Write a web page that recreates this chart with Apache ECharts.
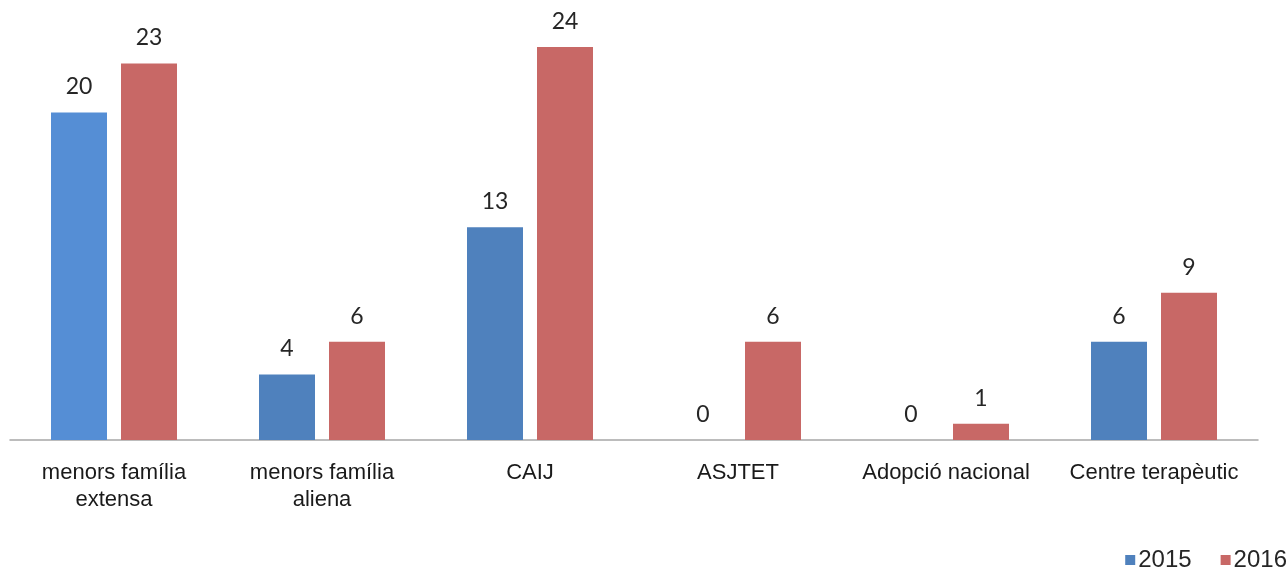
<!DOCTYPE html>
<html><head><meta charset="utf-8">
<script src="https://cdn.jsdelivr.net/npm/echarts@6/dist/echarts.min.js"></script>
<style>html,body{margin:0;padding:0;background:#fff}#c{width:1286px;height:567px}</style>
</head><body><div id="c"></div>
<script>
const categories = ['menors família\nextensa', 'menors família\naliena', 'CAIJ', 'ASJTET', 'Adopció nacional', 'Centre terapèutic'];
const seriesNames = ['2015', '2016'];
const values2015 = [20, 4, 13, 0, 0, 6];
const values2016 = [23, 6, 24, 6, 1, 9];

const chart = echarts.init(document.getElementById('c'));
const labelCfg = {show: true, position: 'top', distance: 14, color: '#262626', fontSize: 23, fontFamily: 'Lato, "Open Sans", sans-serif'};
chart.setOption({
  animation: false,
  legend: {
    right: -1, top: 548, padding: 0, itemWidth: 10, itemHeight: 10, itemGap: 29,
    icon: 'rect',
    textStyle: {fontSize: 24, fontFamily: '"Liberation Sans", Arial, sans-serif', color: '#262626', padding: [0,0,0,-2]},
    data: seriesNames
  },
  grid: {left: 10, right: 28, top: 47, bottom: 127, containLabel: false},
  xAxis: {
    type: 'category', data: categories,
    axisLine: {lineStyle: {color: '#A6A6A6', width: 1.5}},
    axisTick: {show: false},
    axisLabel: {color: '#1a1a1a', fontSize: 22, lineHeight: 27, margin: 19, fontFamily: '"Liberation Sans", Arial, sans-serif', interval: 0}
  },
  yAxis: {type: 'value', min: 0, max: 24, show: false, splitLine: {show: false}},
  series: [
    {name: '2015', type: 'bar', data: values2015.map((v, i) => i === 0 ? {value: v, itemStyle: {color: '#558ED5'}} : v),
     itemStyle: {color: '#4F81BD'}, barWidth: 56, barGap: '25%', label: labelCfg},
    {name: '2016', type: 'bar', data: values2016,
     itemStyle: {color: '#C86866'}, barWidth: 56, label: labelCfg}
  ]
});
</script></body></html>
